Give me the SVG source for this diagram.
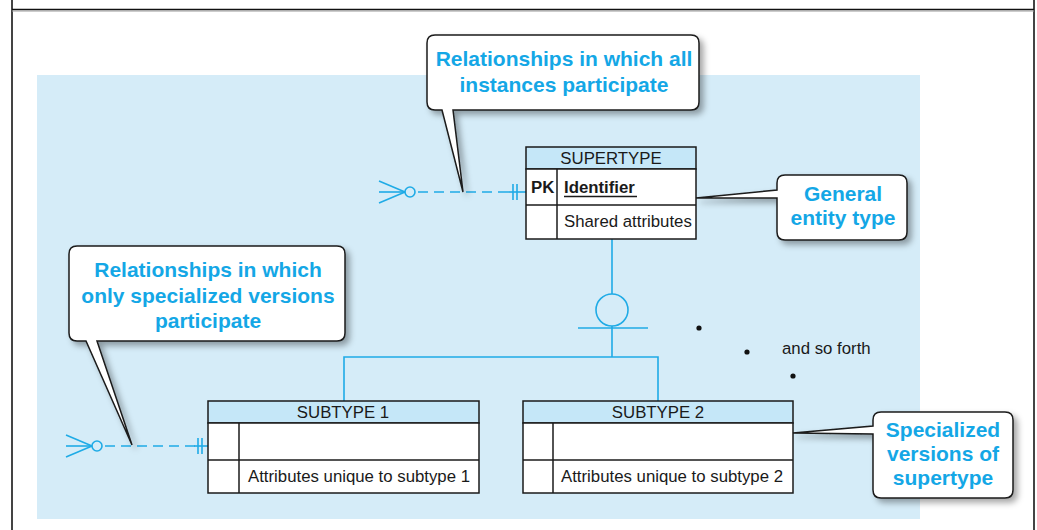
<svg xmlns="http://www.w3.org/2000/svg" width="1037" height="530" viewBox="0 0 1037 530">
<style>
.callout{fill:#fff;stroke:#1a1a1a;stroke-width:1.5;filter:url(#sh)}
.ct{font-family:"Liberation Sans",Arial,sans-serif;font-weight:bold;font-size:21px;fill:#14a7e6;text-anchor:middle}
.box{fill:#fff;stroke:#1a1a1a;stroke-width:1.5}
.hdr{fill:#c5e7f8;stroke:#1a1a1a;stroke-width:1.5}
.et{font-family:"Liberation Sans",Arial,sans-serif;font-size:16.8px;fill:#1a1a1a}
.conn{stroke:#1fabe6;stroke-width:1.6;fill:none}
.dash{stroke-dasharray:10 6}
</style>
<defs>
<filter id="sh" x="-20%" y="-20%" width="150%" height="160%">
<feDropShadow dx="4" dy="4" stdDeviation="3" flood-color="#000" flood-opacity="0.35"/>
</filter>
</defs>
<rect width="1037" height="530" fill="#fff"/>
<g id="frame">
<line x1="12" y1="0" x2="12" y2="530" stroke="#444" stroke-width="2"/>
<line x1="1034" y1="0" x2="1034" y2="530" stroke="#444" stroke-width="2"/>
<line x1="12" y1="9.5" x2="1034" y2="9.5" stroke="#111" stroke-width="1.5"/>
<line x1="12" y1="11" x2="1034" y2="11" stroke="#999" stroke-width="1"/>
</g>
<rect id="panel" x="37" y="75" width="883" height="444" fill="#d5ecf8"/>
<g id="connectors">
<line class="conn" x1="379" y1="181" x2="405" y2="192"/>
<line class="conn" x1="379" y1="203" x2="405" y2="192"/>
<line class="conn" x1="379" y1="192" x2="405" y2="192"/>
<circle class="conn" cx="410" cy="192" r="5"/>
<line class="conn dash" x1="418" y1="192" x2="510" y2="192"/>
<line class="conn" x1="508" y1="192" x2="526" y2="192"/>
<line class="conn" x1="513" y1="184" x2="513" y2="200"/>
<line class="conn" x1="517" y1="184" x2="517" y2="200"/>
<line class="conn" x1="66" y1="435" x2="92" y2="446"/>
<line class="conn" x1="66" y1="457" x2="92" y2="446"/>
<line class="conn" x1="66" y1="446" x2="92" y2="446"/>
<circle class="conn" cx="97" cy="446" r="5"/>
<line class="conn dash" x1="105" y1="446" x2="196" y2="446"/>
<line class="conn" x1="194" y1="446" x2="208" y2="446"/>
<line class="conn" x1="198" y1="438" x2="198" y2="454"/>
<line class="conn" x1="202" y1="438" x2="202" y2="454"/>
<line class="conn" x1="612" y1="239" x2="612" y2="294"/>
<circle class="conn" cx="612" cy="310" r="16"/>
<line class="conn" x1="578" y1="328" x2="648" y2="328"/>
<line class="conn" x1="612" y1="326" x2="612" y2="357"/>
<polyline class="conn" points="344,401 344,357 658,357 658,401"/>
</g>
<g id="supertype">
<rect class="hdr" x="526" y="147" width="170" height="22"/>
<rect class="box" x="526" y="169" width="170" height="70"/>
<line class="box" x1="526" y1="205" x2="696" y2="205"/>
<line class="box" x1="557" y1="169" x2="557" y2="239"/>
<text class="et" x="611" y="164" text-anchor="middle" font-size="16">SUPERTYPE</text>
<text class="et" x="531" y="193" font-weight="bold">PK</text>
<text class="et" x="564" y="193" font-weight="bold">Identifier</text>
<line x1="564" y1="196.5" x2="637" y2="196.5" stroke="#1a1a1a" stroke-width="1.3"/>
<text class="et" x="564" y="227">Shared attributes</text>
</g>
<g id="subtype1">
<rect class="hdr" x="208" y="401" width="271" height="22"/>
<rect class="box" x="208" y="423" width="271" height="70"/>
<line class="box" x1="208" y1="460" x2="479" y2="460"/>
<line class="box" x1="239" y1="423" x2="239" y2="493"/>
<text class="et" x="343" y="418" text-anchor="middle" font-size="16">SUBTYPE 1</text>
<text class="et" x="248" y="482">Attributes unique to subtype 1</text>
</g>
<g id="subtype2">
<rect class="hdr" x="523" y="401" width="270" height="22"/>
<rect class="box" x="523" y="423" width="270" height="70"/>
<line class="box" x1="523" y1="460" x2="793" y2="460"/>
<line class="box" x1="553" y1="423" x2="553" y2="493"/>
<text class="et" x="658" y="418" text-anchor="middle" font-size="16">SUBTYPE 2</text>
<text class="et" x="561" y="482">Attributes unique to subtype 2</text>
</g>
<g id="andsoforth">
<circle cx="699" cy="328" r="2.6" fill="#111"/>
<circle cx="747" cy="352" r="2.6" fill="#111"/>
<circle cx="793" cy="376" r="2.6" fill="#111"/>
<text class="et" x="782" y="354" font-size="16">and so forth</text>
</g>
<g id="callout-all">
<path class="callout" d="M435,35 H691 Q699,35 699,43 V102 Q699,110 691,110 H453 L463,192 L442,110 H435 Q427,110 427,102 V43 Q427,35 435,35 Z"/>
<text class="ct" x="564" y="66">Relationships in which all</text>
<text class="ct" x="564" y="92">instances participate</text>
</g>
<g id="callout-specialized-rel">
<path class="callout" d="M77,246 H337 Q345,246 345,254 V333 Q345,341 337,341 H97 L132,445 L86,341 H77 Q69,341 69,333 V254 Q69,246 77,246 Z"/>
<text class="ct" x="208" y="277">Relationships in which</text>
<text class="ct" x="208" y="303">only specialized versions</text>
<text class="ct" x="208" y="328">participate</text>
</g>
<g id="callout-general">
<path class="callout" d="M785,175 H899 Q907,175 907,183 V232 Q907,240 899,240 H785 Q777,240 777,232 V198 L696,198 L777,190 V183 Q777,175 785,175 Z"/>
<text class="ct" x="843" y="201">General</text>
<text class="ct" x="843" y="225">entity type</text>
</g>
<g id="callout-versions">
<path class="callout" d="M881,412 H1005 Q1013,412 1013,420 V490 Q1013,498 1005,498 H881 Q873,498 873,490 V434 L793,433 L873,426 V420 Q873,412 881,412 Z"/>
<text class="ct" x="943" y="437">Specialized</text>
<text class="ct" x="943" y="461">versions of</text>
<text class="ct" x="943" y="485">supertype</text>
</g>
</svg>
